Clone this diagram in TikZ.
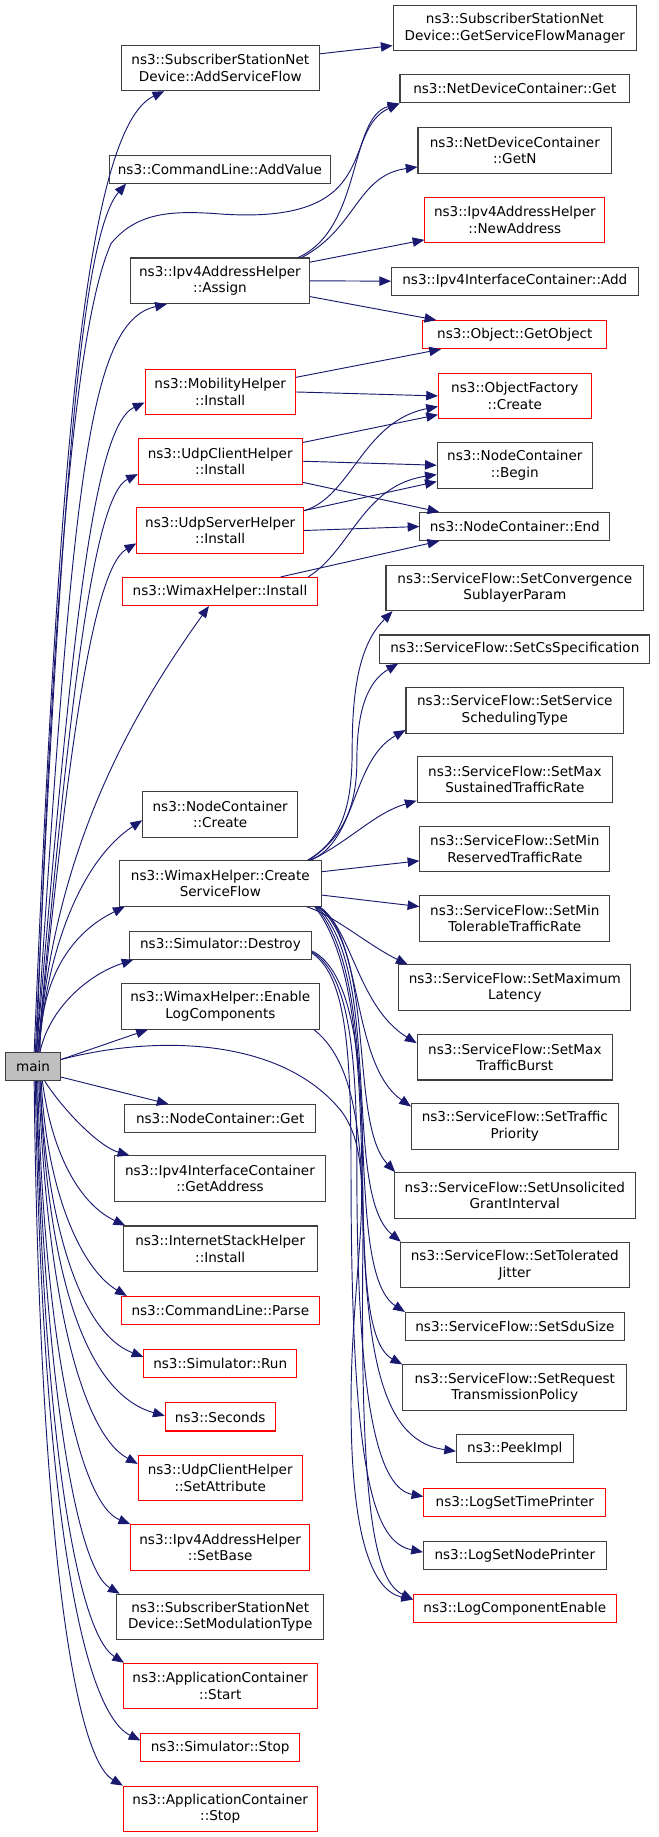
\documentclass[tikz,border=0pt]{standalone}
\usepackage{fontspec}
\setmainfont{DejaVu Sans}
\usetikzlibrary{arrows.meta}
\definecolor{edgeblue}{HTML}{191970}
\definecolor{boxred}{HTML}{FF0000}
\definecolor{boxline}{HTML}{404040}
\definecolor{mainfill}{HTML}{BFBFBF}

\begin{document}
\begin{tikzpicture}[x=1pt,y=1pt,
    >={Triangle[length=10pt,width=8pt]},
    fn/.style={draw=boxline,line width=0.9pt,align=center,inner xsep=1pt,inner ysep=1pt,
      minimum height=24pt,font=\fontsize{11.6}{14}\selectfont},
    fnred/.style={fn,draw=boxred},
    two/.style={minimum height=39pt},
    call/.style={draw=edgeblue,line width=0.8pt,->}]
  \useasboundingbox (0,0) rectangle (563.2,-1570);

  % caller
  \node[fn,fill=mainfill,minimum width=47pt] (main) at (28.2,-911.5) {main};

  % left column
  \node[fn,two,minimum width=169pt] (addsf) at (188.3,-58) {ns3::SubscriberStationNet\\Device::AddServiceFlow};
  \node[fn,minimum width=189.5pt] (addvalue) at (188,-144.5) {ns3::CommandLine::AddValue};
  \node[fn,two,minimum width=153pt] (assign) at (188,-240) {ns3::Ipv4AddressHelper\\::Assign};
  \node[fnred,two,minimum width=128.4pt] (mobinst) at (188.2,-335) {ns3::MobilityHelper\\::Install};
  \node[fnred,two,minimum width=140pt] (uciinst) at (188.2,-394.2) {ns3::UdpClientHelper\\::Install};
  \node[fnred,two,minimum width=142.5pt] (usiinst) at (188.2,-453.4) {ns3::UdpServerHelper\\::Install};
  \node[fnred,minimum width=166pt] (wmxinst) at (188,-505.5) {ns3::WimaxHelper::Install};
  \node[fn,two,minimum width=132.5pt] (nccreate) at (188.2,-696) {ns3::NodeContainer\\::Create};
  \node[fn,two,minimum width=172.6pt] (createsf) at (188.3,-755) {ns3::WimaxHelper::Create\\ServiceFlow};
  \node[fn,minimum width=156pt] (destroy) at (188.4,-807.8) {ns3::Simulator::Destroy};
  \node[fn,two,minimum width=169pt] (enablelog) at (188.3,-860) {ns3::WimaxHelper::Enable\\LogComponents};
  \node[fn,minimum width=163.4pt] (ncget) at (188.2,-956) {ns3::NodeContainer::Get};
  \node[fn,two,minimum width=180pt] (getaddr) at (188,-1007.4) {ns3::Ipv4InterfaceContainer\\::GetAddress};
  \node[fn,two,minimum width=165.5pt] (inetinst) at (188.2,-1067.3) {ns3::InternetStackHelper\\::Install};
  \node[fnred,minimum width=169pt] (parse) at (188.3,-1120) {ns3::CommandLine::Parse};
  \node[fnred,minimum width=130.5pt] (simrun) at (188.2,-1165.6) {ns3::Simulator::Run};
  \node[fnred,minimum width=94pt] (seconds) at (188.2,-1211) {ns3::Seconds};
  \node[fnred,two,minimum width=140pt] (setattr) at (188.2,-1263.1) {ns3::UdpClientHelper\\::SetAttribute};
  \node[fnred,two,minimum width=153pt] (setbase) at (188.2,-1322.5) {ns3::Ipv4AddressHelper\\::SetBase};
  \node[fn,two,minimum width=177pt] (setmod) at (188.2,-1382) {ns3::SubscriberStationNet\\Device::SetModulationType};
  \node[fnred,two,minimum width=165.5pt] (appstart) at (188.2,-1441) {ns3::ApplicationContainer\\::Start};
  \node[fnred,minimum width=135.5pt] (simstop) at (188.2,-1493.5) {ns3::Simulator::Stop};
  \node[fnred,two,minimum width=165.5pt] (appstop) at (188.2,-1546) {ns3::ApplicationContainer\\::Stop};

  % right column
  \node[fn,two,minimum width=208pt] (gsfm) at (440,-24) {ns3::SubscriberStationNet\\Device::GetServiceFlowManager};
  \node[fn,minimum width=196.3pt] (ndcget) at (440,-76) {ns3::NetDeviceContainer::Get};
  \node[fn,two,minimum width=165.5pt] (getn) at (440,-128.7) {ns3::NetDeviceContainer\\::GetN};
  \node[fnred,two,minimum width=153.7pt] (newaddr) at (440,-188) {ns3::Ipv4AddressHelper\\::NewAddress};
  \node[fn,minimum width=210.6pt] (icadd) at (440,-240.3) {ns3::Ipv4InterfaceContainer::Add};
  \node[fnred,minimum width=157.3pt] (getobj) at (440,-286) {ns3::Object::GetObject};
  \node[fnred,two,minimum width=130.5pt] (ofcreate) at (440,-338.4) {ns3::ObjectFactory\\::Create};
  \node[fn,two,minimum width=132.6pt] (ncbegin) at (440,-397.6) {ns3::NodeContainer\\::Begin};
  \node[fn,minimum width=162.3pt] (ncend) at (440,-450) {ns3::NodeContainer::End};
  \node[fn,two,minimum width=220.2pt] (sfconv) at (440,-502.4) {ns3::ServiceFlow::SetConvergence\\SublayerParam};
  \node[fn,minimum width=230.6pt] (sfcs) at (440,-554.7) {ns3::ServiceFlow::SetCsSpecification};
  \node[fn,two,minimum width=186pt] (sfsched) at (440,-607) {ns3::ServiceFlow::SetService\\SchedulingType};
  \node[fn,two,minimum width=167pt] (sfmaxsus) at (440,-666.4) {ns3::ServiceFlow::SetMax\\SustainedTrafficRate};
  \node[fn,two,minimum width=162.3pt] (sfminres) at (440,-725.7) {ns3::ServiceFlow::SetMin\\ReservedTrafficRate};
  \node[fn,two,minimum width=162.3pt] (sfmintol) at (440,-784.8) {ns3::ServiceFlow::SetMin\\TolerableTrafficRate};
  \node[fn,two,minimum width=198.4pt] (sflat) at (440,-844.2) {ns3::ServiceFlow::SetMaximum\\Latency};
  \node[fn,two,minimum width=167pt] (sfburst) at (440,-903.5) {ns3::ServiceFlow::SetMax\\TrafficBurst};
  \node[fn,two,minimum width=176.6pt] (sfprio) at (440,-962.7) {ns3::ServiceFlow::SetTraffic\\Priority};
  \node[fn,two,minimum width=205.6pt] (sfunsol) at (440,-1021.7) {ns3::ServiceFlow::SetUnsolicited\\GrantInterval};
  \node[fn,two,minimum width=196pt] (sfjitter) at (440,-1081.2) {ns3::ServiceFlow::SetTolerated\\Jitter};
  \node[fn,minimum width=187pt] (sfsdu) at (440,-1133.7) {ns3::ServiceFlow::SetSduSize};
  \node[fn,two,minimum width=191.6pt] (sfreq) at (440,-1186) {ns3::ServiceFlow::SetRequest\\TransmissionPolicy};
  \node[fn,minimum width=99.7pt] (peek) at (440,-1238.3) {ns3::PeekImpl};
  \node[fnred,minimum width=155.5pt] (timepr) at (440,-1284) {ns3::LogSetTimePrinter};
  \node[fn,minimum width=156.2pt] (nodepr) at (440,-1329.5) {ns3::LogSetNodePrinter};
  \node[fnred,minimum width=173pt] (logce) at (440,-1375) {ns3::LogComponentEnable};

  % main, upwards
  \draw[call] ([xshift=1pt]main.north) .. controls (50,-400) and (72,-110) .. ([xshift=37pt]addsf.south west);
  \draw[call] ([xshift=2pt]main.north) .. controls (52,-420) and (70,-200) .. ([xshift=15pt]addvalue.south west);
  \draw[call] ([xshift=3pt]main.north) .. controls (45,-500) and (65,-275) .. (95,-208)
    .. controls (118,-180) and (150,-180) .. (190,-183) .. controls (330,-192) and (290,-112) .. (ndcget.south west);
  \draw[call] ([xshift=3pt]main.north) .. controls (62,-420) and (74,-275) .. ([xshift=31.5pt]assign.south west);
  \draw[call] ([xshift=3pt]main.north) .. controls (60,-560) and (78,-365) .. ([yshift=-9pt]mobinst.west);
  \draw[call] ([xshift=4pt]main.north) .. controls (58,-620) and (78,-425) .. ([yshift=-11pt]uciinst.west);
  \draw[call] ([xshift=4pt]main.north) .. controls (55,-680) and (76,-488) .. ([yshift=-11pt]usiinst.west);
  \draw[call] ([xshift=5pt]main.north) .. controls (45,-720) and (120,-600) .. ([xshift=74pt]wmxinst.south west);
  \draw[call] ([xshift=5pt]main.north) .. controls (40,-810) and (70,-735) .. ([yshift=-5pt]nccreate.west);
  \draw[call] ([xshift=6pt]main.north) .. controls (34,-845) and (55,-800) .. ([xshift=5pt]createsf.south west);
  \draw[call] ([xshift=6pt]main.north) .. controls (42,-862) and (75,-833) .. ([xshift=4pt]destroy.south west);
  \draw[call] ([yshift=6pt]main.east) -- ([xshift=23pt]enablelog.south west);
  \draw[call] ([yshift=6pt]main.east) .. controls (130,-885) and (240,-885) .. (292,-950)
    .. controls (325,-995) and (300,-1080) .. (300,-1200) .. controls (300,-1320) and (320,-1360) .. ([yshift=8pt]logce.west);

  % main, downwards
  \draw[call] ([yshift=-9pt]main.east) -- ([xshift=38pt]ncget.north west);
  \draw[call] ([xshift=10pt]main.south) .. controls (55,-950) and (85,-980) .. ([xshift=13pt]getaddr.north west);
  \draw[call] ([xshift=8pt]main.south) .. controls (45,-990) and (70,-1030) .. ([xshift=2pt]inetinst.north west);
  \draw[call] ([xshift=7pt]main.south) .. controls (40,-1020) and (70,-1085) .. ([xshift=5pt]parse.north west);
  \draw[call] ([xshift=6pt]main.south) .. controls (40,-1050) and (70,-1140) .. ([yshift=6pt]simrun.west);
  \draw[call] ([xshift=6pt]main.south) .. controls (40,-1080) and (70,-1190) .. ([yshift=1pt]seconds.west);
  \draw[call] ([xshift=5pt]main.south) .. controls (40,-1110) and (70,-1225) .. ([yshift=12pt]setattr.west);
  \draw[call] ([xshift=4pt]main.south) .. controls (38,-1150) and (68,-1285) .. (setbase.north west);
  \draw[call] ([xshift=3pt]main.south) .. controls (38,-1180) and (65,-1340) .. ([xshift=3pt]setmod.north west);
  \draw[call] ([xshift=3pt]main.south) .. controls (36,-1220) and (65,-1395) .. ([xshift=1pt]appstart.north west);
  \draw[call] ([xshift=2pt]main.south) .. controls (35,-1250) and (65,-1460) .. ([yshift=6pt]simstop.west);
  \draw[call] ([xshift=1pt]main.south) .. controls (33,-1280) and (60,-1500) .. (appstop.north west);

  % second level, upper part
  \draw[call] ([yshift=12pt]addsf.east) -- ([yshift=-15pt]gsfm.west);
  \draw[call] ([xshift=-10pt]assign.north east) .. controls (310,-195) and (298,-100) .. (ndcget.south west);
  \draw[call] ([xshift=-7pt]assign.north east) .. controls (305,-195) and (305,-150) .. ([yshift=-14pt]getn.west);
  \draw[call] ([yshift=-4pt]assign.north east) -- ([yshift=-17pt]newaddr.west);
  \draw[call] (assign.east) -- (icadd.west);
  \draw[call] ([yshift=-13.5pt]assign.east) -- ([xshift=12pt]getobj.north west);
  \draw[call] ([yshift=12.5pt]mobinst.east) -- ([xshift=16pt]getobj.south west);
  \draw[call] (mobinst.east) -- (ofcreate.west);
  \draw[call] ([yshift=16pt]uciinst.east) -- ([yshift=-16pt]ofcreate.west);
  \draw[call] (uciinst.east) -- (ncbegin.west);
  \draw[call] ([yshift=-18pt]uciinst.east) -- ([xshift=17pt]ncend.north west);
  \draw[call] ([yshift=17pt]usiinst.east) .. controls (300,-425) and (310,-360) .. ([yshift=-9pt]ofcreate.west);
  \draw[call] ([yshift=17pt]usiinst.east) -- ([yshift=-14pt]ncbegin.west);
  \draw[call] (usiinst.east) -- (ncend.west);
  \draw[call] ([xshift=-8pt]wmxinst.north east) .. controls (300,-470) and (310,-415) .. ([yshift=-8pt]ncbegin.west);
  \draw[call] ([xshift=-31.5pt]wmxinst.north east) -- ([xshift=17pt]ncend.south west);

  % service flow setters
  \draw[call] ([xshift=-12pt]createsf.north east) .. controls (292,-718) and (301,-690) .. (301,-640)
    .. controls (301,-580) and (310,-548) .. ([xshift=6pt]sfconv.south west);
  \draw[call] ([xshift=-11pt]createsf.north east) .. controls (293,-716) and (305,-690) .. (305,-650)
    .. controls (305,-605) and (315,-582) .. ([xshift=16pt]sfcs.south west);
  \draw[call] ([xshift=-10pt]createsf.north east) .. controls (305,-720) and (300,-650) .. ([yshift=3pt]sfsched.south west);
  \draw[call] ([xshift=-9pt]createsf.north east) .. controls (300,-718) and (320,-695) .. ([yshift=2pt]sfmaxsus.south west);
  \draw[call] ([yshift=10pt]createsf.east) -- ([yshift=-10pt]sfminres.west);
  \draw[call] ([yshift=-10pt]createsf.east) -- ([yshift=10pt]sfmintol.west);
  \draw[call] ([xshift=-13pt]createsf.south east) .. controls (285,-782) and (315,-808) .. ([xshift=8pt]sflat.north west);
  \draw[call] ([xshift=-3pt]createsf.south east) .. controls (300,-790) and (305,-860) .. ([yshift=12pt]sfburst.west);
  \draw[call] ([xshift=-2pt]createsf.south east) .. controls (310,-800) and (300,-910) .. ([yshift=17pt]sfprio.west);
  \draw[call] ([xshift=-3pt]createsf.south east) .. controls (322,-815) and (298,-960) .. ([xshift=1pt]sfunsol.north west);
  \draw[call] ([xshift=-4pt]createsf.south east) .. controls (328,-830) and (292,-1020) .. ([xshift=1pt]sfjitter.north west);
  \draw[call] ([xshift=-5pt]createsf.south east) .. controls (332,-845) and (290,-1085) .. (sfsdu.north west);
  \draw[call] ([xshift=-6pt]createsf.south east) .. controls (336,-860) and (287,-1135) .. (sfreq.north west);

  % logging
  \draw[call] ([yshift=-5pt]destroy.east) .. controls (300,-830) and (310,-900) .. (310,-1000)
    .. controls (310,-1170) and (330,-1232) .. ([yshift=-2pt]peek.west);
  \draw[call] ([yshift=-6pt]destroy.east) .. controls (298,-832) and (305,-900) .. (305,-1000)
    .. controls (305,-1210) and (325,-1272) .. ([yshift=5pt]timepr.west);
  \draw[call] ([yshift=-7pt]destroy.east) .. controls (296,-834) and (300,-900) .. (300,-1000)
    .. controls (300,-1265) and (320,-1318) .. ([yshift=3pt]nodepr.west);
  \draw[call] ([xshift=-5pt]enablelog.south east) .. controls (300,-905) and (312,-960) .. (310,-1080)
    .. controls (308,-1300) and (322,-1352) .. ([yshift=8pt]logce.west);
\end{tikzpicture}
\end{document}
